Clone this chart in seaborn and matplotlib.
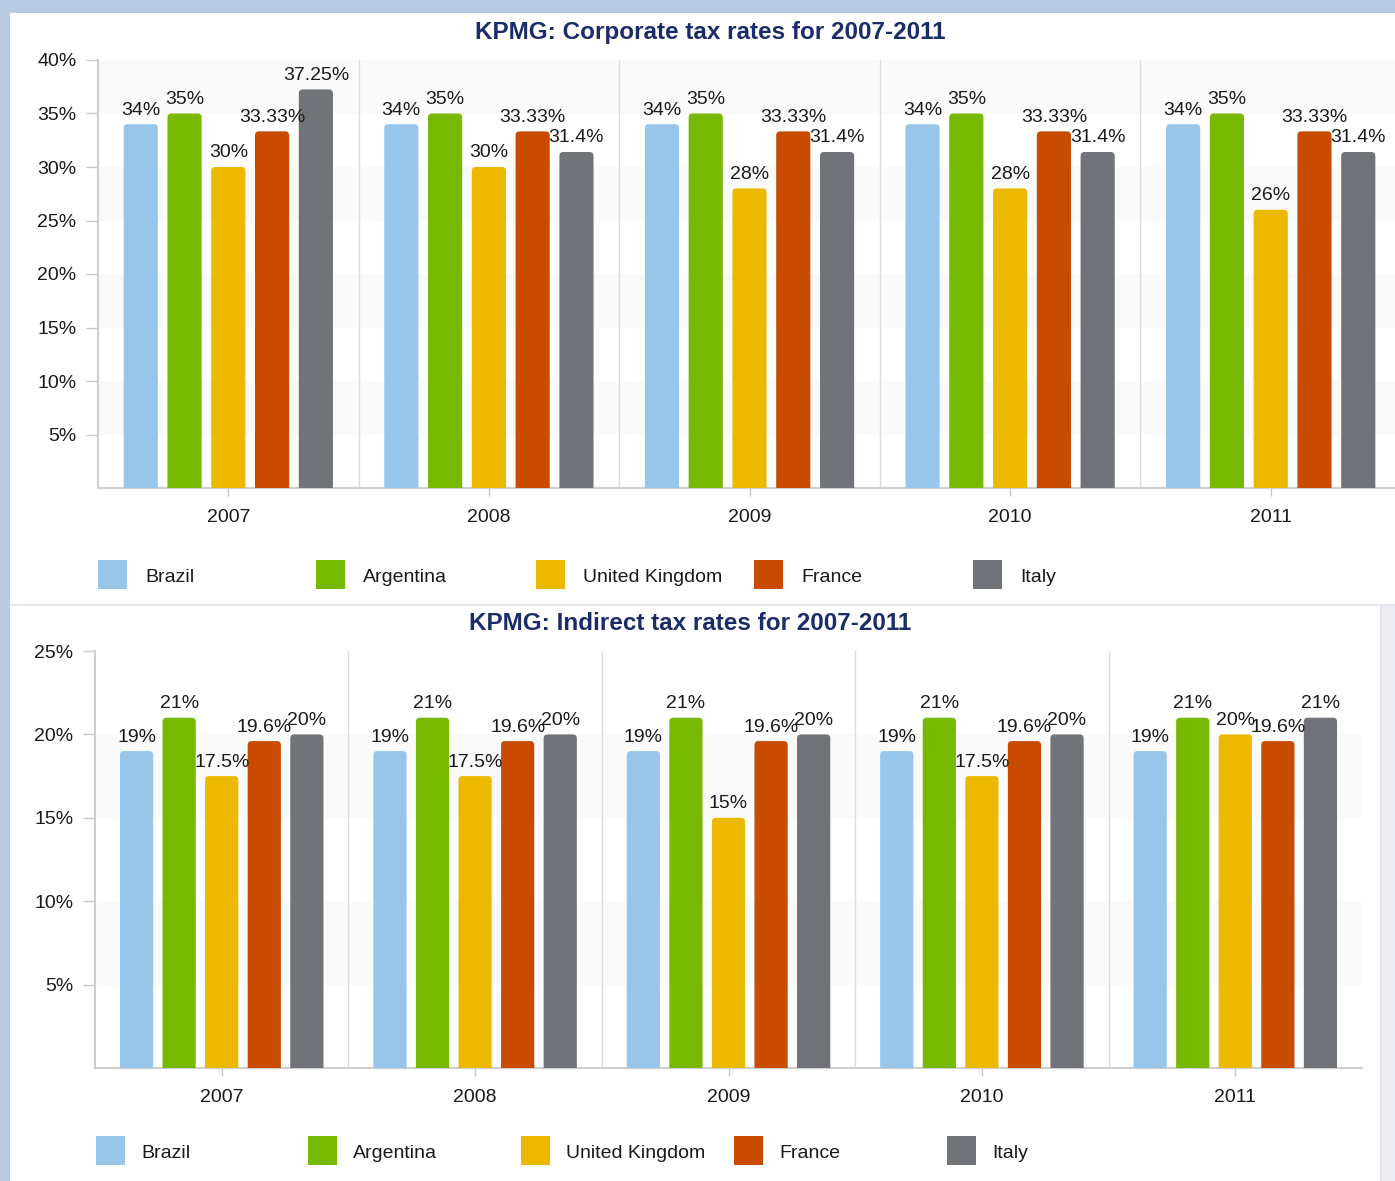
import pandas as pd
import matplotlib.pyplot as plt
import seaborn as sns
from matplotlib.patches import Rectangle, FancyBboxPatch

# --- data ---
years = ['2007', '2008', '2009', '2010', '2011']
countries = ['Brazil', 'Argentina', 'United Kingdom', 'France', 'Italy']

corp_brazil = [34, 34, 34, 34, 34]
corp_argentina = [35, 35, 35, 35, 35]
corp_uk = [30, 30, 28, 28, 26]
corp_france = [33.33, 33.33, 33.33, 33.33, 33.33]
corp_italy = [37.25, 31.4, 31.4, 31.4, 31.4]

ind_brazil = [19, 19, 19, 19, 19]
ind_argentina = [21, 21, 21, 21, 21]
ind_uk = [17.5, 17.5, 15, 17.5, 20]
ind_france = [19.6, 19.6, 19.6, 19.6, 19.6]
ind_italy = [20, 20, 20, 20, 21]

corp_ticks = [5, 10, 15, 20, 25, 30, 35, 40]
ind_ticks = [5, 10, 15, 20, 25]

colors = ['#98c6ea', '#77b800', '#ecb800', '#c84b00', '#707377']
W, H = 1395, 1181

sns.set_style('white')
plt.rcParams['font.family'] = ['Liberation Sans', 'DejaVu Sans']


def to_frame(series):
    rows = []
    for country, vals in zip(countries, series):
        for yr, v in zip(years, vals):
            rows.append({'Year': yr, 'Country': country, 'Rate': v})
    return pd.DataFrame(rows)


def fmt(v):
    return f'{v:g}%'


def round_tops(ax, ymax, radius_px=4):
    # swap the flat seaborn rectangles for ones with rounded tops
    bb = ax.get_position()
    xu = 5.0 / (bb.width * W)
    yu = ymax / (bb.height * H)
    for cont in ax.containers:
        for bar in cont:
            x, h, w = bar.get_x(), bar.get_height(), bar.get_width()
            fb = FancyBboxPatch((x, -2), w, h + 2,
                                boxstyle=f'round,pad=0,rounding_size={radius_px * xu}',
                                mutation_aspect=yu / xu,
                                fc=bar.get_facecolor(), ec='none', zorder=3)
            ax.add_patch(fb)
            bar.set_visible(False)


def draw_panel(ax, df, ticks):
    ymax = ticks[-1]
    for lo in range(5, ymax, 10):
        ax.axhspan(lo, lo + 5, color='#fafafa', zorder=0, lw=0)
    sns.barplot(data=df, x='Year', y='Rate', hue='Country', hue_order=countries,
                palette=colors, width=0.84, gap=0.22, saturation=1,
                legend=False, ax=ax, zorder=3)
    for cont, country in zip(ax.containers, countries):
        vals = df[df['Country'] == country]['Rate'].tolist()
        ax.bar_label(cont, labels=[fmt(v) for v in vals], padding=4,
                     fontsize=14, color='#1a1a1a', zorder=5)
    for i in range(1, 5):
        ax.axvline(i - 0.5, color='#dcdcdc', lw=1, zorder=1)
    ax.set_xlim(-0.5, 4.5)
    ax.set_ylim(0, ymax)
    ax.set_yticks(ticks)
    ax.set_yticklabels([fmt(t) for t in ticks])
    ax.set_xlabel('')
    ax.set_ylabel('')
    ax.tick_params(axis='y', length=8.6, width=1, color='#c8c8c8', pad=7,
                   labelsize=14, labelcolor='#1a1a1a', left=True)
    ax.tick_params(axis='x', length=5.8, width=1, color='#c8c8c8', pad=9.5,
                   labelsize=14, labelcolor='#1a1a1a', bottom=True)
    for s in ['top', 'right']:
        ax.spines[s].set_visible(False)
    for s in ['left', 'bottom']:
        ax.spines[s].set_color('#cfcfcf')
        ax.spines[s].set_linewidth(1.5)
    ax.set_facecolor('white')
    round_tops(ax, ymax)


def fig_rect(fig, x0, y0, x1, y1, color):
    fig.add_artist(Rectangle((x0 / W, 1 - y1 / H), (x1 - x0) / W, (y1 - y0) / H,
                             transform=fig.transFigure, fc=color, ec='none', zorder=-5))


def legend_row(fig, xs, y_top, label_dx):
    for x, c, name in zip(xs, colors, countries):
        fig_rect(fig, x, y_top, x + 29, y_top + 29, c)
        fig.text((x + label_dx) / W, 1 - (y_top + 17.5) / H, name, fontsize=14,
                 color='#1a1a1a', va='center', ha='left')


fig = plt.figure(figsize=(W / 100, H / 100), dpi=100)
fig.patch.set_facecolor('#b7cbe3')

# white panels
fig_rect(fig, 10, 13, W, 604, 'white')
fig_rect(fig, 10, 606, 1380, H, 'white')
fig_rect(fig, 10, 604, W, 606, '#e3e7ee')
fig_rect(fig, 1380, 606, W, H, '#eceef4')
fig_rect(fig, 1380, 606, 1382, H, '#e2e5eb')

ax1 = fig.add_axes([98 / W, 1 - 488 / H, 1303 / W, 428 / H])
draw_panel(ax1, to_frame([corp_brazil, corp_argentina, corp_uk, corp_france, corp_italy]),
           corp_ticks)

ax2 = fig.add_axes([95 / W, 1 - 1068 / H, 1267 / W, 417 / H])
draw_panel(ax2, to_frame([ind_brazil, ind_argentina, ind_uk, ind_france, ind_italy]),
           ind_ticks)

fig.text(710 / W, 1 - 33 / H, 'KPMG: Corporate tax rates for 2007-2011', fontsize=17.5,
         fontweight='bold', color='#1b2d69', ha='center', va='center')
fig.text(690 / W, 1 - 624 / H, 'KPMG: Indirect tax rates for 2007-2011', fontsize=17.5,
         fontweight='bold', color='#1b2d69', ha='center', va='center')

legend_row(fig, [98, 316, 536, 754, 973], 560, 47)
legend_row(fig, [96, 308, 521, 734, 947], 1136, 45)

fig.savefig('out.png', dpi=100, facecolor=fig.get_facecolor())
